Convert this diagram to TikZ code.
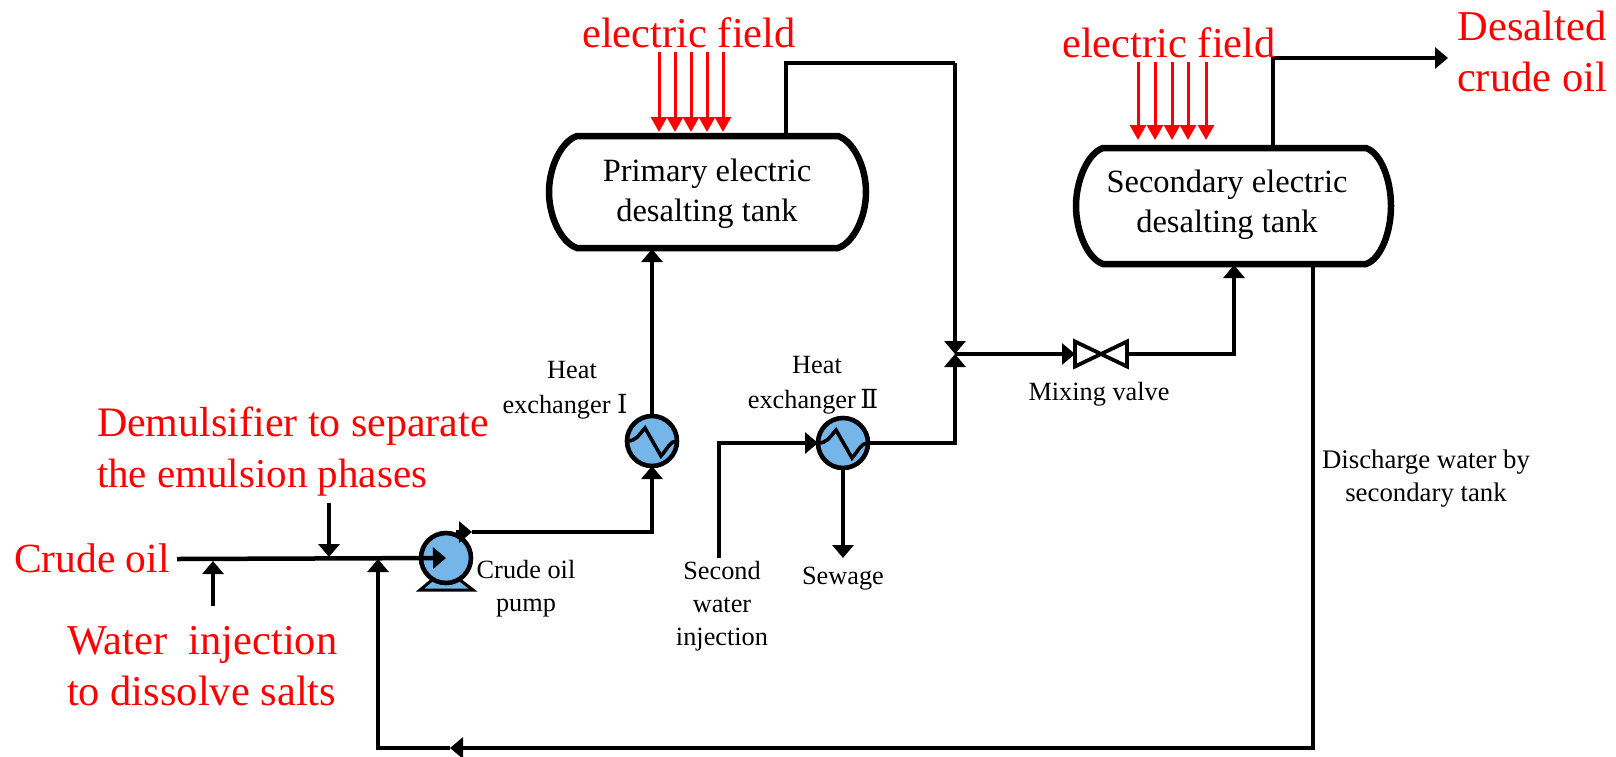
\documentclass[tikz,border=0pt]{standalone}
\usepackage{fontspec}
\setmainfont{Liberation Serif}
\newfontfamily\numfont{DejaVu Serif}
\usetikzlibrary{arrows.meta}
\definecolor{equip}{HTML}{75B5E8}
\tikzset{
  every node/.style={inner sep=0pt,outer sep=0pt},
  pipe/.style={line width=4.5pt,black,line join=miter},
  pipearrow/.style={pipe,-{Triangle[length=13pt,width=21pt]}},
  fieldarrow/.style={line width=3pt,red,-{Triangle[length=15pt,width=16pt]}},
  vessel/.style={line width=6.5pt,black,fill=white},
  equipment/.style={circle,draw=black,line width=4.6pt,fill=equip,minimum size=50pt},
  zigzag/.style={line width=3.6pt,black,line join=miter},
  redbig/.style={red,align=center,font=\fontsize{42.5}{51}\selectfont},
  redleft/.style={redbig,align=left},
  redmid/.style={redleft,font=\fontsize{41}{51}\selectfont},
  tanklabel/.style={black,align=center,font=\fontsize{32.5}{40}\selectfont},
  small/.style={black,align=center,font=\fontsize{26.3}{33}\selectfont},
  smallwide/.style={small,font=\fontsize{26.3}{35}\selectfont},
}
\begin{document}
\begin{tikzpicture}[x=1pt,y=-1pt]
\useasboundingbox (0,0) rectangle (1616,756);

% tanks
\draw[vessel] (577,136) -- (838,136) .. controls (853,141) and (866,166) .. (866,192)
  .. controls (866,218) and (853,243) .. (838,248) -- (577,248)
  .. controls (562,243) and (549,218) .. (549,192) .. controls (549,166) and (562,141) .. (577,136) -- cycle;
\draw[vessel] (1103,148) -- (1366,148) .. controls (1381,153) and (1391,180) .. (1391,206)
  .. controls (1391,232) and (1381,259) .. (1366,264) -- (1103,264)
  .. controls (1088,259) and (1076,232) .. (1076,206) .. controls (1076,180) and (1088,153) .. (1103,148) -- cycle;
\node[tanklabel,anchor=base] (tank1) at (707,221) {Primary electric\\desalting tank};
\node[tanklabel,anchor=base] (tank2) at (1227,232) {Secondary electric\\desalting tank};

% named points
\coordinate (t1in) at (652,249);
\coordinate (t1out) at (786,136);
\coordinate (t1c) at (786,63);
\coordinate (drop) at (955,63);
\coordinate (mix) at (955,354);
\coordinate (t2in) at (1234,265);
\coordinate (t2out) at (1273,148);
\coordinate (t2c) at (1273,58);
\coordinate (prod) at (1448,58);
\coordinate (t2dis) at (1313,264);
\coordinate (bot1) at (1313,748);
\coordinate (botm) at (450,748);
\coordinate (bot2) at (378,748);
\coordinate (ret) at (378,559);
\coordinate (feed) at (177,559);
\coordinate (pumpc) at (446,558);
\coordinate (pumpoutA) at (456,532);
\coordinate (pumpoutB) at (472,532);
\coordinate (pcorner) at (652,532);
\coordinate (inj) at (719,558);
\coordinate (injc) at (719,443);
\coordinate (hx2c) at (955,443);
\coordinate (sew) at (843,558);
\coordinate (dem0) at (329,503);
\coordinate (dem1) at (329,557);
\coordinate (wat0) at (213,606);
\coordinate (wat1) at (213,561);
\coordinate (v2c) at (1234,354);

% equipment
\draw[black,line width=3pt,fill=equip] (420,590) -- (432,580) -- (460,580) -- (473,590) -- cycle;
\node[equipment] (pump) at (446,558) {};
\node[equipment] (hx1) at (652,441) {};
\node[equipment] (hx2) at (843,443) {};
\draw[zigzag] (hx1.west) .. controls (636,441) and (638,436) .. (645,428) -- (661,456) .. controls (668,448) and (670,441) .. (hx1.east);
\draw[zigzag] (hx2.west) .. controls (827,443) and (829,438) .. (836,430) -- (852,458) .. controls (859,450) and (861,443) .. (hx2.east);
\node[minimum width=52pt,minimum height=25pt] (valve) at (1101,354) {};
\draw[line width=3.8pt,black,fill=white,line join=miter]
  (valve.south west) -- (valve.north west) -- (valve.south east) -- (valve.north east) -- cycle;

% connectors
\draw[pipearrow] (feed) -- (pumpc);
\draw[pipearrow] (pumpoutA) -- (pumpoutB);
\draw[pipearrow] (pumpoutB) -- (pcorner) -- (hx1.south);
\draw[pipearrow] (hx1.north) -- (t1in);
\draw[pipe] (t1out) -- (t1c) -- (drop);
\draw[pipearrow] (drop) -- (mix);
\draw[pipearrow] (hx2.east) -- (hx2c) -- (mix);
\draw[pipearrow] (mix) -- (valve.west);
\draw[pipearrow] (valve.east) -- (v2c) -- (t2in);
\draw[pipearrow] (t2out) -- (t2c) -- (prod);
\draw[pipearrow] (t2dis) -- (bot1) -- (botm);
\draw[pipearrow] (botm) -- (bot2) -- (ret);
\draw[pipearrow] (inj) -- (injc) -- (hx2.west);
\draw[pipearrow] (hx2.south) -- (sew);
\draw[pipearrow] (dem0) -- (dem1);
\draw[pipearrow] (wat0) -- (wat1);

% electric fields
\foreach \x in {659,675,691,707,723} {\draw[fieldarrow] (\x,52) -- (\x,132);}
\foreach \x in {1138,1155,1172,1188,1206} {\draw[fieldarrow] (\x,62) -- (\x,140);}

% red labels
\node[redbig,anchor=base] (ef1) at (689,47) {electric field};
\node[redbig,anchor=base] (ef2) at (1169,57) {electric field};
\node[redbig,anchor=base] (out) at (1532,91) {Desalted\\crude oil};
\node[redmid,anchor=base west] (dem) at (97,487) {\fontsize{42}{51}\selectfont Demulsifier to separate\\\fontsize{41}{51}\selectfont the emulsion phases};
\node[redbig,font=\fontsize{41.5}{51}\selectfont,anchor=base west] (crude) at (14,572) {Crude oil};
\node[redleft,anchor=base west] (water) at (67,705) {Water\ \ injection\\to dissolve salts};

% black labels
\node[smallwide,anchor=base] (l1) at (565,413) {\hspace*{14pt}Heat\\exchanger {\numfont Ⅰ}};
\node[smallwide,anchor=base] (l2) at (813,408) {\hspace*{8pt}Heat\\exchanger\,{\numfont Ⅱ}};
\node[small,anchor=base] (l3) at (1099,400) {Mixing valve};
\node[small,anchor=base] (l4) at (526,611) {Crude oil\\pump};
\node[small,anchor=base] (l5) at (722,645) {Second\\water\\injection};
\node[small,anchor=base] (l6) at (843,584) {Sewage};
\node[small,anchor=base,font=\fontsize{26.8}{33}\selectfont] (l7) at (1426,501) {Discharge water by\\secondary tank};
\end{tikzpicture}
\end{document}
